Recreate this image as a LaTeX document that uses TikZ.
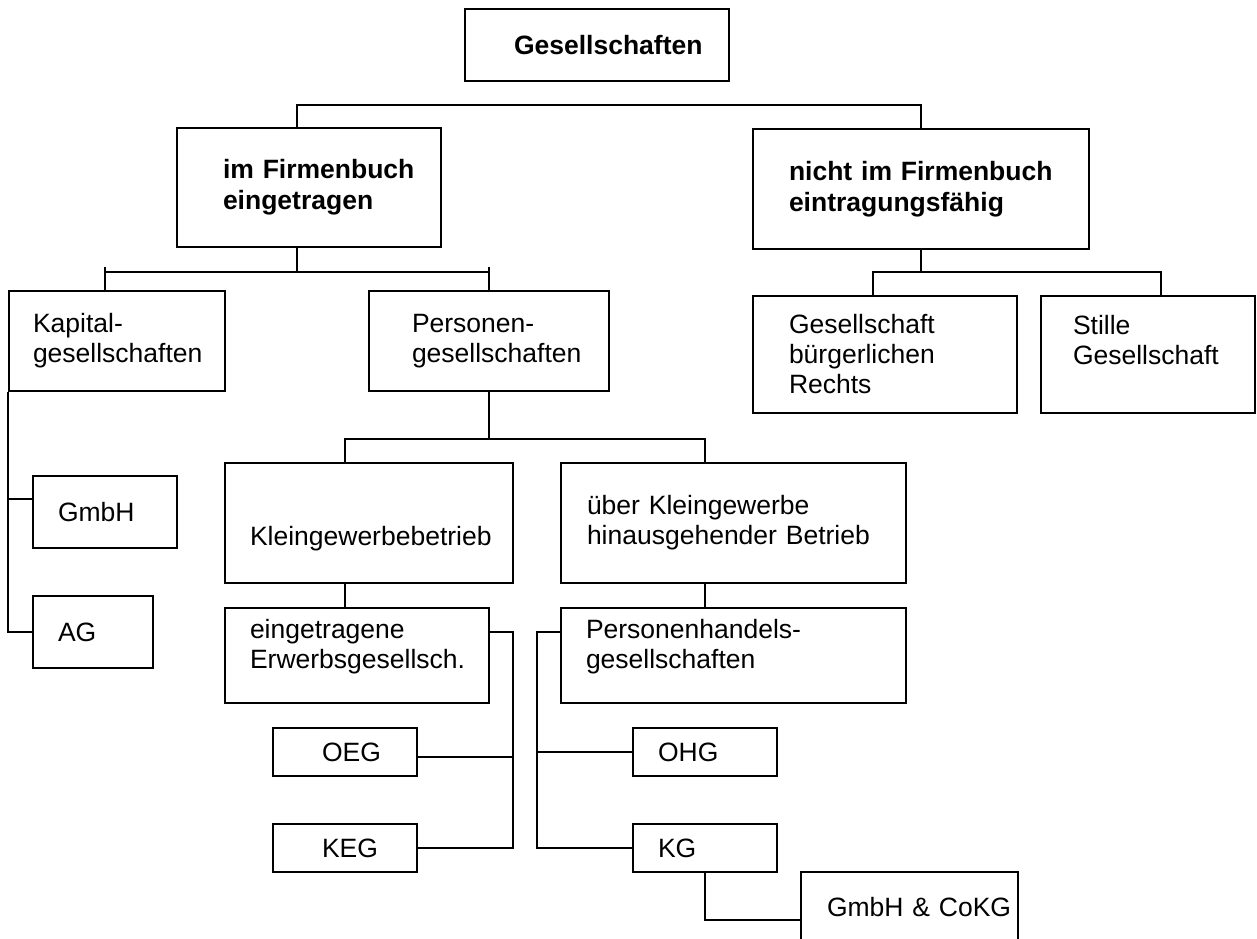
\documentclass[tikz,border=0pt]{standalone}
\usepackage{fontspec}
\setmainfont{Liberation Sans}
\hyphenpenalty=10000
\exhyphenpenalty=10000
\tikzset{
  box/.style={draw, rectangle, line width=1.7pt, align=left, inner ysep=0pt,
    font=\fontsize{26.5}{30}\selectfont},
  head/.style={box, font=\fontsize{26.5}{31}\selectfont\bfseries},
  link/.style={line width=1.7pt}
}
\begin{document}
\begin{tikzpicture}[x=1pt, y=-1pt]
        \useasboundingbox (0,0) rectangle (1257,938);

        % Draw nodes
        \node[head, minimum width=264pt, minimum height=72pt, inner xsep=49pt, text width=166pt] (ges) at (597,45) {Gesellschaften};
        \node[head, minimum width=264pt, minimum height=119pt, inner xsep=46pt, text width=172pt] (imf) at (309,187.5) {im~Firmenbuch\\eingetragen};
        \node[head, minimum width=336pt, minimum height=120pt, inner xsep=36pt, text width=264pt] (nicht) at (921,189) {nicht~im~Firmenbuch\\eintragungsfähig};

        \node[box, minimum width=216pt, minimum height=100pt, inner xsep=24pt, text width=168pt] (kap) at (117,341) {Kapital-\\gesellschaften};
        \node[box, minimum width=240pt, minimum height=100pt, inner xsep=43pt, text width=154pt] (pers) at (489,341) {Personen-\\gesellschaften};
        \node[box, minimum width=264pt, minimum height=117pt, inner xsep=36pt, text width=192pt] (gbr) at (885,354.5) {Gesellschaft\\bürgerlichen\\Rechts};
        \node[box, minimum width=214pt, minimum height=117pt, inner xsep=32pt, text width=150pt] (stille) at (1148,354.5) {Stille\\Gesellschaft\\\mbox{}};

        \node[box, minimum width=144pt, minimum height=72pt, inner xsep=25pt, text width=94pt] (gmbh) at (105,512) {GmbH};
        \node[box, minimum width=120pt, minimum height=72pt, inner xsep=25pt, text width=70pt] (ag) at (93,632) {AG};

        \node[box, minimum width=288pt, minimum height=120pt, inner xsep=25pt, text width=238pt] (kgb) at (369,523) {\strut\\Kleingewerbebetrieb};
        \node[box, minimum width=345pt, minimum height=120pt, inner xsep=26pt, text width=293pt] (ueber) at (733.5,523) {über Kleingewerbe\\hinausgehender~Betrieb};
        \node[box, minimum width=264pt, minimum height=95pt, inner xsep=25pt, text width=214pt] (eeg) at (357,655.5) {eingetragene\\Erwerbsgesellsch.\\[-7pt]\mbox{}};
        \node[box, minimum width=345pt, minimum height=95pt, inner xsep=25pt, text width=295pt] (phg) at (733.5,655.5) {Personenhandels-\\gesellschaften\\[-7pt]\mbox{}};

        \node[box, minimum width=144pt, minimum height=48pt, inner xsep=49pt, text width=46pt] (oeg) at (345,752) {OEG};
        \node[box, minimum width=144pt, minimum height=48pt, inner xsep=49pt, text width=46pt] (keg) at (345,848) {KEG};
        \node[box, minimum width=144pt, minimum height=48pt, inner xsep=25pt, text width=94pt] (ohg) at (705,752) {OHG};
        \node[box, minimum width=144pt, minimum height=48pt, inner xsep=25pt, text width=94pt] (kg) at (705,848) {KG};
        \node[box, minimum width=217pt, minimum height=70pt, inner xsep=26pt, text width=165pt] (cokg) at (909.5,907) {GmbH~\&~CoKG};

        % Junctions
        \coordinate (j1) at (297,105);
        \coordinate (j2) at (297,272);
        \coordinate (t1) at (105,267);
        \coordinate (t2) at (489,267);
        \coordinate (g1) at (9,499);
        \coordinate (c1) at (345,439);
        \coordinate (c2) at (705,439);
        \coordinate (e1) at (513,632);
        \coordinate (o1) at (513,757);
        \coordinate (p1) at (537,632);
        \coordinate (k1) at (705,920);
        \coordinate (n1) at (873,272);
        \coordinate (n2) at (1161,272);

        % Draw connections
        \draw[link] (imf.north -| j1) |- (nicht.north |- j1) -- (nicht.north);
        \draw[link] (imf.south -| j2) -- (j2);
        \draw[link] (t1 |- j2) -- (t2 |- j2);
        \draw[link] (t1) -- (kap.north -| t1);
        \draw[link] (t2) -- (pers.north);
        \draw[link] (kap.south west) |- (ag.west);
        \draw[link] (g1) -- (g1 -| gmbh.west);
        \draw[link] (pers.south) -- (pers.south |- c1);
        \draw[link] (kgb.north -| c1) |- (c2) -- (ueber.north -| c2);
        \draw[link] (kgb.south -| c1) -- (eeg.north -| c1);
        \draw[link] (ueber.south -| c2) -- (phg.north -| c2);
        \draw[link] (eeg.east |- e1) -| (e1 |- keg.east) -- (keg.east);
        \draw[link] (o1) -- (o1 -| oeg.east);
        \draw[link] (phg.west |- p1) -| (p1 |- kg.west) -- (kg.west);
        \draw[link] (ohg.west) -- (ohg.west -| p1);
        \draw[link] (kg.south) |- (k1 -| cokg.west);
        \draw[link] (nicht.south) -- (nicht.south |- n1);
        \draw[link] (gbr.north -| n1) |- (n2) -- (stille.north -| n2);
    \end{tikzpicture}
\end{document}
